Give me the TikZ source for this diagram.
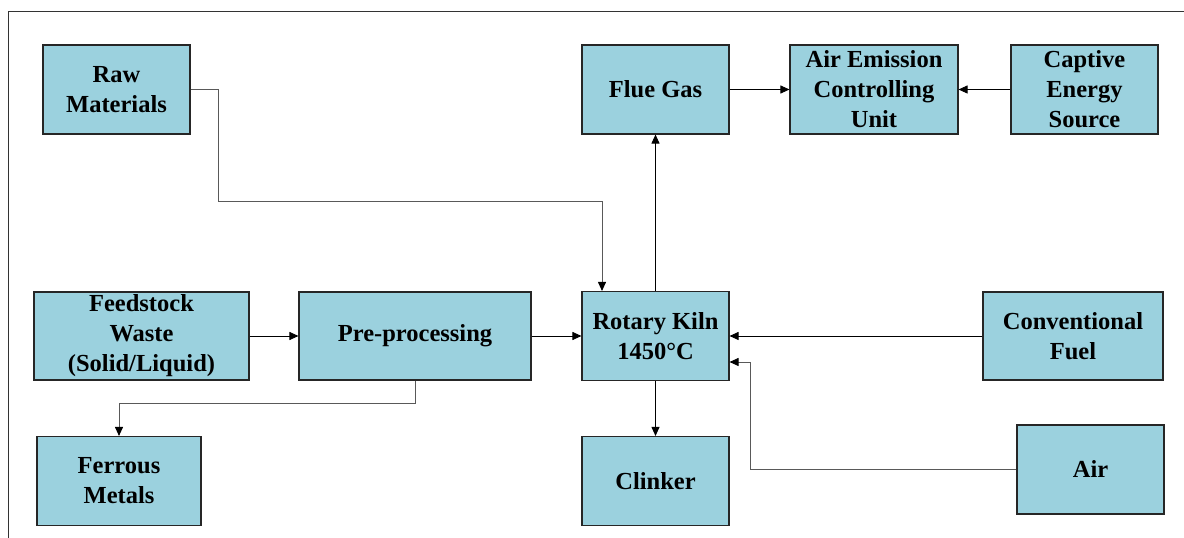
\documentclass[tikz,border=0pt]{standalone}
\usepackage{fontspec}
\setmainfont{Liberation Serif}
\usetikzlibrary{arrows.meta}
\definecolor{kilnblue}{RGB}{155,209,222}

\begin{document}
\begin{tikzpicture}[x=1pt, y=1pt, ->, >={Triangle[length=9pt,width=8pt,color=black]}, line width=0.9pt, node distance=145pt,
    main node/.style={rectangle, draw=black!85, line width=1.1pt, fill=kilnblue, minimum height=89, inner sep=0pt, align=center, font=\bfseries\fontsize{24.5}{30}\selectfont},
    bent/.style={draw=black!65}]

        \useasboundingbox (0,0) rectangle (1184,538);
        \draw[-, black!80, line width=1pt] (8,0) |- (1184,526);

        \node[main node, minimum width=147] (kiln) at (655.5,202) {Rotary Kiln\\1450°C};
        \node[main node, minimum width=147] (clinker) [below of=kiln] {Clinker};
        \node[main node, minimum width=147] (flue) [above of=kiln, yshift=101.5] {Flue Gas};
        \node[main node, minimum width=168] (aecu) [right of=flue, xshift=73.5] {Air Emission\\Controlling\\Unit};
        \node[main node, minimum width=147] (captive) [right of=aecu, xshift=65.5] {Captive\\Energy\\Source};

        \node[main node, minimum width=232, minimum height=88] (pre) [left of=kiln, xshift=-95.5] {Pre-processing};
        \node[main node, minimum width=215, minimum height=88] (feed) [left of=pre, xshift=-128.5] {Feedstock\\Waste\\(Solid/Liquid)};
        \node[main node, minimum width=147] (raw) [above of=feed, xshift=-25, yshift=101.5] {Raw\\Materials};
        \node[main node, minimum width=164] (ferrous) [below of=feed, xshift=-22.5] {Ferrous\\Metals};

        \node[main node, minimum width=180, minimum height=88] (conv) [right of=kiln, xshift=272.5] {Conventional\\Fuel};
        \node[main node, minimum width=147] (air) [below of=conv, xshift=17.5, yshift=11.5] {Air};

        \draw (kiln) -- (flue);
        \draw (flue) -- (aecu);
        \draw (captive) -- (aecu);
        \draw (feed) -- (pre);
        \draw (pre) -- (kiln);
        \draw (conv) -- (kiln);
        \draw (kiln) -- (clinker);

        \draw[bent] (raw.east) -- ++(28,0) |- ([xshift=-53.5, yshift=89.5]kiln.north) -- ([xshift=-53.5]kiln.north);
        \draw[bent] (pre.south) -- ++(0,-23) -| (ferrous.north);
        \draw[bent] (air.west) -| ([xshift=21, yshift=-26]kiln.east) -- ([yshift=-26]kiln.east);
    \end{tikzpicture}
\end{document}
